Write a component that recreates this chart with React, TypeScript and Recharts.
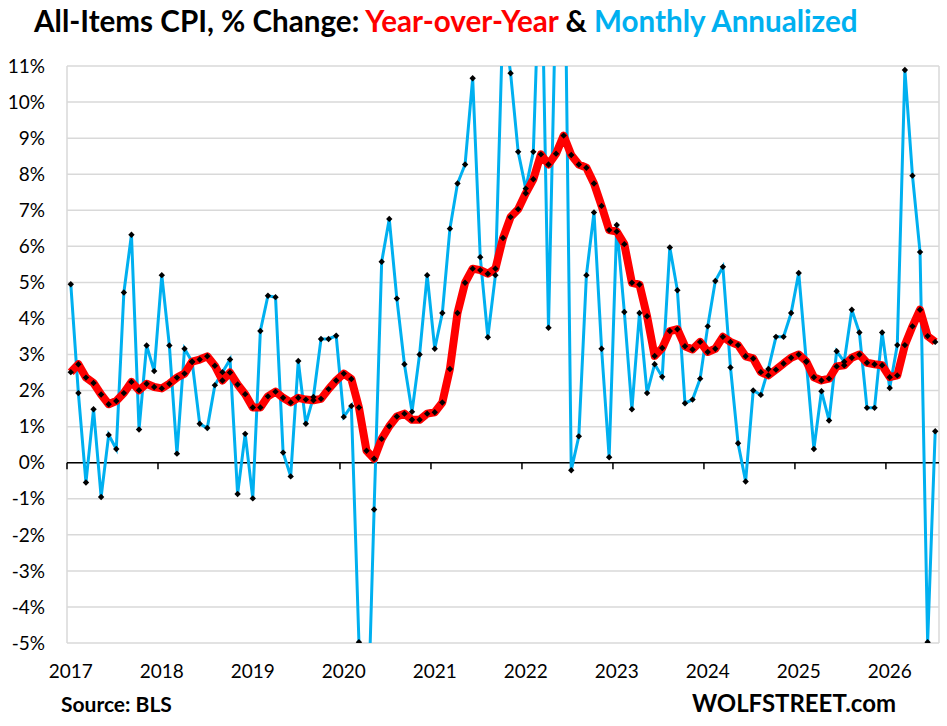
import React from 'react'
import { LineChart, Line, XAxis, YAxis, CartesianGrid, ReferenceLine } from 'recharts'

// Jan 2017 .. Jul 2026, one value per month
const yearLabels = ['2017', '2018', '2019', '2020', '2021', '2022', '2023', '2024', '2025', '2026']

const yoy = [
  2.51, 2.73, 2.36, 2.21, 1.89, 1.62, 1.71, 1.93, 2.24, 2.01, 2.19, 2.1,
  2.06, 2.19, 2.36, 2.47, 2.8, 2.86, 2.95, 2.69, 2.28, 2.5, 2.17, 1.9,
  1.53, 1.53, 1.84, 1.97, 1.8, 1.67, 1.8, 1.75, 1.73, 1.77, 2.04, 2.28,
  2.47, 2.32, 1.53, 0.33, 0.11, 0.66, 1.01, 1.28, 1.36, 1.19, 1.19, 1.36,
  1.4, 1.67, 2.6, 4.15, 4.99, 5.38, 5.34, 5.24, 5.38, 6.23, 6.81, 7.03,
  7.47, 7.86, 8.55, 8.27, 8.57, 9.07, 8.53, 8.27, 8.18, 7.74, 7.12, 6.45,
  6.41, 6.06, 4.99, 4.94, 4.06, 2.96, 3.18, 3.65, 3.7, 3.23, 3.14, 3.35,
  3.07, 3.16, 3.49, 3.35, 3.26, 2.95, 2.89, 2.51, 2.42, 2.58, 2.75, 2.91,
  3.0, 2.81, 2.37, 2.28, 2.33, 2.67, 2.7, 2.91, 3.0, 2.77, 2.73, 2.7,
  2.37, 2.42, 3.26, 3.78, 4.24, 3.51, 3.35,
]

const monthly = [
  4.95, 1.93, -0.55, 1.48, -0.95, 0.77, 0.38, 4.72, 6.32, 0.92, 3.25, 2.54,
  5.2, 3.25, 0.25, 3.16, 2.8, 1.08, 0.96, 2.15, 2.51, 2.86, -0.87, 0.8,
  -0.99, 3.65, 4.63, 4.59, 0.28, -0.38, 2.82, 1.08, 1.82, 3.43, 3.43, 3.52,
  1.27, 1.57, -4.98, -8.5, -1.3, 5.57, 6.76, 4.55, 2.73, 1.41, 3.0, 5.2,
  3.16, 4.15, 6.49, 7.74, 8.27, 10.66, 5.7, 3.48, 5.2, 12.4, 10.8, 8.62,
  7.6, 8.62, 15.0, 3.74, 13.3, 17.0, -0.21, 0.73, 5.2, 6.94, 3.16, 0.15,
  6.59, 4.18, 1.48, 4.15, 1.93, 2.73, 2.38, 5.97, 4.78, 1.65, 1.75, 2.33,
  3.78, 5.04, 5.43, 2.64, 0.54, -0.52, 2.0, 1.88, 2.6, 3.49, 3.49, 4.15,
  5.26, 2.8, 0.38, 1.98, 1.17, 3.09, 2.8, 4.24, 3.61, 1.52, 1.52, 3.61,
  2.07, 3.26, 10.89, 7.96, 5.84, -4.98, 0.87,
]

const yTicks = [-5, -4, -3, -2, -1, 0, 1, 2, 3, 4, 5, 6, 7, 8, 9, 10, 11]

const months = yoy.length
// points sit in the middle of each month
const data = yoy.map((v, i) => ({ m: i + 0.5, yoy: v, monthly: monthly[i] }))
const yearBounds = yearLabels.map((_, k) => k * 12)
const labelTicks = yearLabels.map((_, k) => k * 12 + 0.5)

const font = 'Lato, "Open Sans", sans-serif'

function diamond(p: any) {
  const { cx, cy, index } = p
  if (cx == null || cy == null || isNaN(cy)) return <g key={index} />
  const r = 3.2
  return (
    <path
      key={index}
      d={`M${cx},${cy - r}L${cx + r},${cy}L${cx},${cy + r}L${cx - r},${cy}Z`}
      fill="#000"
    />
  )
}

export default function App() {
  return (
    <div style={{ position: 'relative', width: 947, height: 726, background: '#fff' }}>
      <style>{'body{margin:0}'}</style>
      <LineChart
        width={947}
        height={726}
        data={data}
        margin={{ top: 66, right: 8, left: 7, bottom: 53 }}
      >
        <CartesianGrid xAxisId="grid" stroke="#d9d9d9" strokeWidth={1.5} />
        <XAxis
          xAxisId="lab"
          dataKey="m"
          type="number"
          domain={[0, months]}
          ticks={labelTicks}
          tickFormatter={(v: number) => yearLabels[Math.round((v - 0.5) / 12)]}
          interval={0}
          axisLine={false}
          tickLine={false}
          tickSize={0}
          tickMargin={22}
          height={30}
          tick={{ fontFamily: font, fontSize: 19, fill: '#000' }}
        />
        <XAxis
          xAxisId="grid"
          dataKey="m"
          type="number"
          domain={[0, months]}
          ticks={yearBounds}
          interval={0}
          axisLine={false}
          tickLine={false}
          tick={false}
          height={0}
        />
        <YAxis
          type="number"
          domain={[-5, 11]}
          ticks={yTicks}
          interval={0}
          allowDataOverflow
          axisLine={false}
          tickLine={false}
          tickSize={0}
          tickMargin={22}
          width={60}
          tickFormatter={(v: number) => `${v}%`}
          tick={{ fontFamily: font, fontSize: 19, fill: '#000' }}
        />
        <ReferenceLine xAxisId="grid" y={0} stroke="#000" strokeWidth={1.5} />
        {yearBounds.map((b) => (
          <ReferenceLine
            key={b}
            xAxisId="grid"
            segment={[{ x: b, y: 0 }, { x: b, y: -0.18 }]}
            stroke="#000"
            strokeWidth={1.5}
          />
        ))}
        <Line
          xAxisId="lab"
          dataKey="monthly"
          stroke="#00b0f0"
          strokeWidth={3}
          dot={diamond}
          activeDot={false}
          isAnimationActive={false}
        />
        <Line
          xAxisId="lab"
          dataKey="yoy"
          stroke="#ff0000"
          strokeWidth={8}
          strokeLinejoin="round"
          dot={diamond}
          activeDot={false}
          isAnimationActive={false}
        />
      </LineChart>
      <svg
        width={947}
        height={726}
        style={{ position: 'absolute', left: 0, top: 0, pointerEvents: 'none' }}
      >
        <text x={34} y={32} fontFamily={font} fontWeight={700} fontSize={29.6}>
          <tspan fill="#000">All-Items CPI, % Change: </tspan>
          <tspan fill="#ff0000">Year-over-Year</tspan>
          <tspan fill="#000"> &amp; </tspan>
          <tspan fill="#00b0f0">Monthly Annualized</tspan>
        </text>
        <text x={61} y={712} fontFamily={font} fontWeight={700} fontSize={21} fill="#000">
          Source: BLS
        </text>
        <text
          x={692}
          y={712}
          fontFamily={font}
          fontWeight={700}
          fontSize={24}
          fill="#000"
          textLength={204}
          lengthAdjust="spacingAndGlyphs"
        >
          WOLFSTREET.com
        </text>
      </svg>
    </div>
  )
}
